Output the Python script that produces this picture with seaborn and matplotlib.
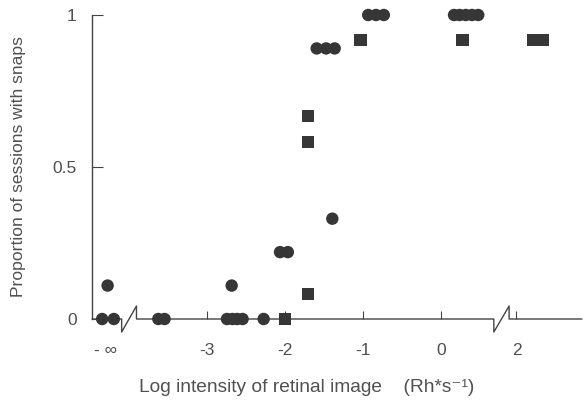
import matplotlib
matplotlib.use("Agg")
import matplotlib.pyplot as plt
import seaborn as sns
import pandas as pd
import numpy as np

# ---- data (log intensity positions on a broken axis; -inf drawn at far left) ----
circle_x = [-4.34, -4.19, -4.27, -3.62, -3.54, -2.74, -2.67, -2.61, -2.54, -2.68,
            -2.27, -2.06, -1.96, -1.39, -1.59, -1.47, -1.36, -0.93, -0.83, -0.73,
            0.17, 0.24, 0.32, 0.40, 0.48]
circle_y = [0, 0, 0.11, 0, 0, 0, 0, 0, 0, 0.11,
            0, 0.22, 0.22, 0.33, 0.89, 0.89, 0.89, 1, 1, 1,
            1, 1, 1, 1, 1]
square_x = [-2.0, -1.70, -1.70, -1.70, -1.03, 0.28, 1.18, 1.31]
square_y = [0, 0.083, 0.583, 0.667, 0.917, 0.917, 0.917, 0.917]

xtick_pos = [-4.3, -3, -2, -1, 0, 0.97]
xtick_labels = ["- \u221e", "-3", "-2", "-1", "0", "2"]
ytick_pos = [0, 0.5, 1]
ytick_labels = ["0", "0.5", "1"]

df = pd.DataFrame({
    "x": circle_x + square_x,
    "y": circle_y + square_y,
    "kind": ["circle"] * len(circle_x) + ["square"] * len(square_x),
})

sns.set_style("ticks")
plt.rcParams["font.family"] = ["Liberation Sans", "DejaVu Sans"]

W, H = 585, 403
fig = plt.figure(figsize=(W / 100, H / 100), dpi=100)
left, right, top, bottom = 92, 582, 15, 319
ax = fig.add_axes([left / W, (H - bottom) / H, (right - left) / W, (bottom - top) / H])

mark_col = "#363636"
line_col = "#444444"
text_col = "#505050"

sns.scatterplot(data=df, x="x", y="y", style="kind",
                markers={"circle": "o", "square": "s"},
                s=80, color=mark_col, edgecolor="none", linewidth=0,
                legend=False, ax=ax, clip_on=False, zorder=3)

ax.set_xlim(-4.47, 1.81)
ax.set_ylim(0, 1)

# spines
for s in ["top", "right", "bottom"]:
    ax.spines[s].set_visible(False)
ax.spines["left"].set_color(line_col)
ax.spines["left"].set_linewidth(1.0)

# broken x axis drawn manually
dy = 13 / (bottom - top)
b1a, b1b = -4.09, -3.90
b2a, b2b = 0.68, 0.876
kw = dict(color=line_col, lw=1.0, clip_on=False, zorder=2)
ax.plot([-4.47, b1a, b1a, b1b, b1b, b2a, b2a, b2b, b2b, 1.81],
        [0, 0, -dy, dy, 0, 0, -dy, dy, 0, 0], **kw)

ax.set_xticks(xtick_pos)
ax.set_xticklabels(xtick_labels)
ax.set_yticks(ytick_pos)
ax.set_yticklabels(ytick_labels)
ax.tick_params(axis="x", direction="in", length=6, width=0.8, color=line_col,
               pad=17, labelsize=12.5, labelcolor=text_col)
ax.tick_params(axis="y", direction="in", length=8, width=0.8, color=line_col,
               pad=11, labelsize=12.5, labelcolor=text_col)
ax.xaxis.get_major_ticks()[0].tick1line.set_visible(False)

ax.set_ylabel("Proportion of sessions with snaps", fontsize=12.6, color=text_col)
ax.yaxis.set_label_coords((26 - left) / (right - left), 0.5)
ax.set_xlabel("Log intensity of retinal image    (Rh*s\u207b\u00b9)", fontsize=13.8, color=text_col)
ax.xaxis.set_label_coords((307 - left) / (right - left), (bottom - 387) / (bottom - top))
ax.xaxis.label.set_va("center")

fig.savefig("out.png", dpi=100)
